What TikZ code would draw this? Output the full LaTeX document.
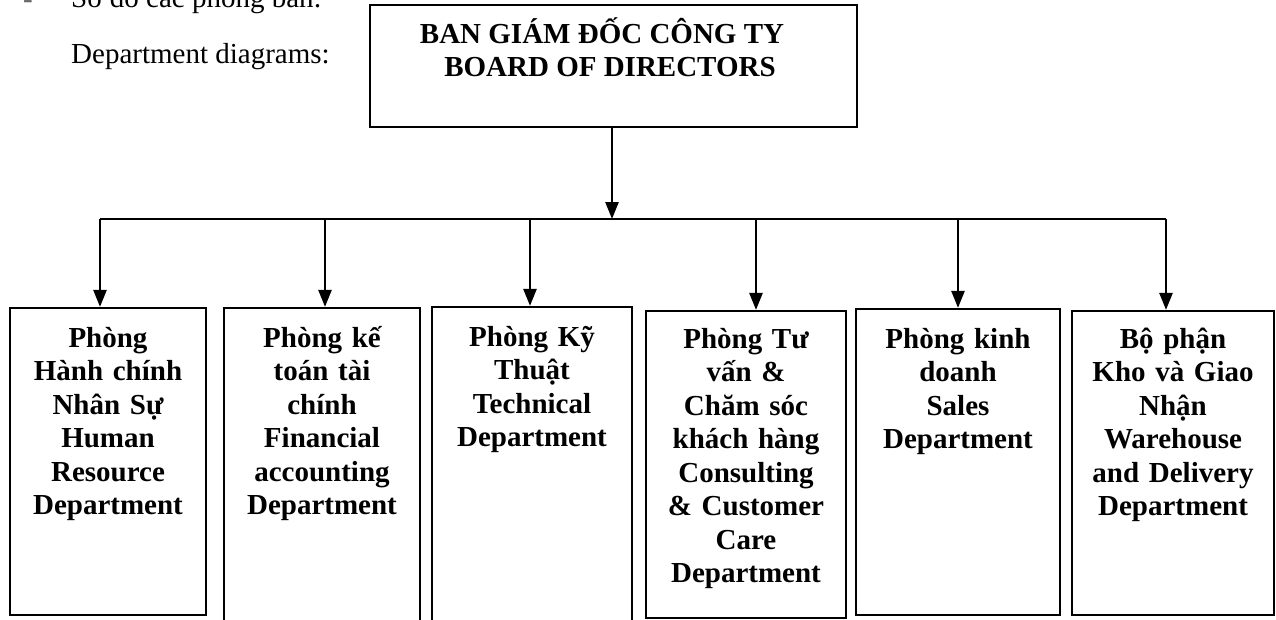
\documentclass[tikz,border=0pt]{standalone}
\usepackage{fontspec}
\setmainfont{Liberation Serif}
\usetikzlibrary{arrows.meta}
\begin{document}
\begin{tikzpicture}[x=1pt,y=-1pt,
  box/.style={draw,line width=2.2pt,inner sep=0pt,rectangle},
  conn/.style={line width=2.5pt},
  arr/.style={line width=2.5pt,-{Triangle[length=17pt,width=13pt]}},
  dept/.style={font=\bfseries\fontsize{29}{33.5}\selectfont,text width=200pt,align=center,inner sep=0pt,anchor=base},
  plain/.style={font=\fontsize{29}{33.5}\selectfont,inner sep=0pt,anchor=base west},
  head/.style={font=\bfseries\fontsize{29}{33.5}\selectfont,inner sep=0pt,anchor=base}]
\useasboundingbox (0,0) rectangle (1276,619);
\fill[white] (0,0) rectangle (1276,619);
% intro text
\node[plain,text=black!60] (dash) at (23,8) {-};
\node[plain] (intro) at (71,7) {Sơ đồ các phòng ban:};
\node[plain] (intro2) at (71,63) {Department diagrams:};
% top box
\node[box,minimum width=487pt,minimum height=122pt] (top) at (613.5,66) {};
\node[head] (h1) at (602,43) {BAN GIÁM ĐỐC CÔNG TY};
\node[head] (h2) at (610,76) {BOARD OF DIRECTORS};
% department boxes
\node[box,minimum width=196pt,minimum height=307pt] (b1) at (108,461.5) {};
\node[box,minimum width=196pt,minimum height=322pt] (b2) at (322,469) {};
\node[box,minimum width=200pt,minimum height=323pt] (b3) at (532,468.5) {};
\node[box,minimum width=200pt,minimum height=307pt] (b4) at (746,464.5) {};
\node[box,minimum width=204pt,minimum height=306pt] (b5) at (958,462) {};
\node[box,minimum width=202pt,minimum height=304pt] (b6) at (1173,463) {};
% texts
\node[dept] (t1) at (108,347) {Phòng\\Hành chính\\Nhân Sự\\Human\\Resource\\Department};
\node[dept] (t2) at (322,347) {Phòng kế\\toán tài\\chính\\Financial\\accounting\\Department};
\node[dept] (t3) at (532,346) {Phòng Kỹ\\Thuật\\Technical\\Department};
\node[dept] (t4) at (746,348) {Phòng Tư\\vấn \&\\Chăm sóc\\khách hàng\\Consulting\\\& Customer\\Care\\Department};
\node[dept] (t5) at (958,348) {Phòng kinh\\doanh\\Sales\\Department};
\node[dept] (t6) at (1173,348) {Bộ phận\\Kho và Giao\\Nhận\\Warehouse\\and Delivery\\Department};
% connectors
\coordinate (hub) at (612,219);
\coordinate (a1) at (100,219);
\coordinate (a2) at (325,219);
\coordinate (a3) at (530,219);
\coordinate (a4) at (756,219);
\coordinate (a5) at (958,219);
\coordinate (a6) at (1166,219);
\draw[arr] (top.south -| hub) -- (hub);
\draw[conn] (a1) -- (a6);
\draw[arr] (a1) -- (a1 |- b1.north);
\draw[arr] (a2) -- (a2 |- b2.north);
\draw[arr] (a3) -- (a3 |- b3.north);
\draw[arr] (a4) -- (a4 |- b4.north);
\draw[arr] (a5) -- (a5 |- b5.north);
\draw[arr] (a6) -- (a6 |- b6.north);
\end{tikzpicture}
\end{document}
